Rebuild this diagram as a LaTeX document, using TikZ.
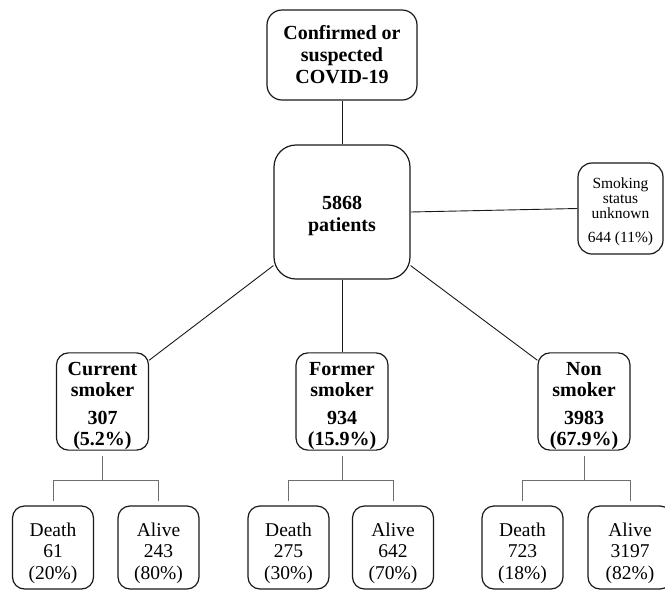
\documentclass[tikz,border=0pt]{standalone}
\usepackage{fontspec}
\setmainfont{Liberation Serif}
\usetikzlibrary{positioning, calc}
\definecolor{boxline}{RGB}{25, 25, 25}
\definecolor{branchline}{RGB}{110, 110, 110}
\newcommand{\toplift}[1]{\rule{0pt}{#1}}

\begin{document}
\begin{tikzpicture}[x=1pt, y=-1pt,
    box/.style={draw=boxline, line width=1.2pt, rounded corners=12pt, align=center, inner sep=0pt},
    bigbox/.style={box, font=\fontsize{20}{22}\selectfont\bfseries},
    groupbox/.style={box, minimum width=92pt, minimum height=91pt, font=\fontsize{20}{21}\selectfont\bfseries},
    outcome/.style={box, minimum width=81pt, minimum height=83pt, font=\fontsize{19.5}{21.5}\selectfont},
    link/.style={draw=boxline, line width=0.9pt},
    branch/.style={draw=branchline, line width=0.9pt}]

    % Rahmen
    \clip (0,0) rectangle (665,590);

    % obere Ebene
    \node[bigbox, rounded corners=15pt, minimum width=150pt, minimum height=90pt] (covid) at (342,55)
        {Confirmed or\\suspected\\COVID-19};
    \node[bigbox, rounded corners=22pt, minimum width=136pt, minimum height=134pt] (total) at (342,212)
        {\toplift{22pt}5868\\patients};
    \node[box, rounded corners=14pt, minimum width=85pt, minimum height=91pt,
          font=\fontsize{15.5}{15}\selectfont] (unknown) at (620.5,208.5)
        {\toplift{17pt}Smoking\\status\\unknown\\[9pt]644 (11\%)};

    % Raucherstatus
    \node[groupbox] (current) at (102.5,401.5) {\toplift{23pt}Current\\smoker\\[7pt]307\\(5.2\%)};
    \node[groupbox] (former) at (342,401.5) {\toplift{23pt}Former\\smoker\\[7pt]934\\(15.9\%)};
    \node[groupbox] (never) at (584,401.5) {\toplift{23pt}Non\\smoker\\[7pt]3983\\(67.9\%)};

    % Ergebnis
    \node[outcome] (curdeath) at (53,547.5) {\toplift{25pt}Death\\61\\(20\%)};
    \node[outcome] (curalive) at (158.5,547.5) {\toplift{25pt}Alive\\243\\(80\%)};
    \node[outcome] (fordeath) at (288.5,547.5) {\toplift{25pt}Death\\275\\(30\%)};
    \node[outcome] (foralive) at (393,547.5) {\toplift{25pt}Alive\\642\\(70\%)};
    \node[outcome] (nondeath) at (522.5,547.5) {\toplift{25pt}Death\\723\\(18\%)};
    \node[outcome, minimum width=84pt] (nonalive) at (630,547.5) {\toplift{25pt}Alive\\3197\\(82\%)};

    % Verbindungen
    \draw[link] (covid) -- (total);
    \draw[link] (total.east) -- (unknown.west);
    \draw[link] ([yshift=14pt]total.south west) -- ([yshift=-8pt]current.north east);
    \draw[link] (total) -- (former);
    \draw[link] ([yshift=14pt]total.south east) -- ([yshift=-8pt]never.north west);

    % Verzweigungen
    \foreach \group/\dead/\alive in {current/curdeath/curalive, former/fordeath/foralive, never/nondeath/nonalive} {
        \draw[branch] ([yshift=-5pt]\group.south) -- ++(0,25) -| ([yshift=4pt]\dead.north);
        \draw[branch] ([yshift=-5pt]\group.south) ++(0,25) -| ([yshift=4pt]\alive.north);
    }

\end{tikzpicture}
\end{document}
